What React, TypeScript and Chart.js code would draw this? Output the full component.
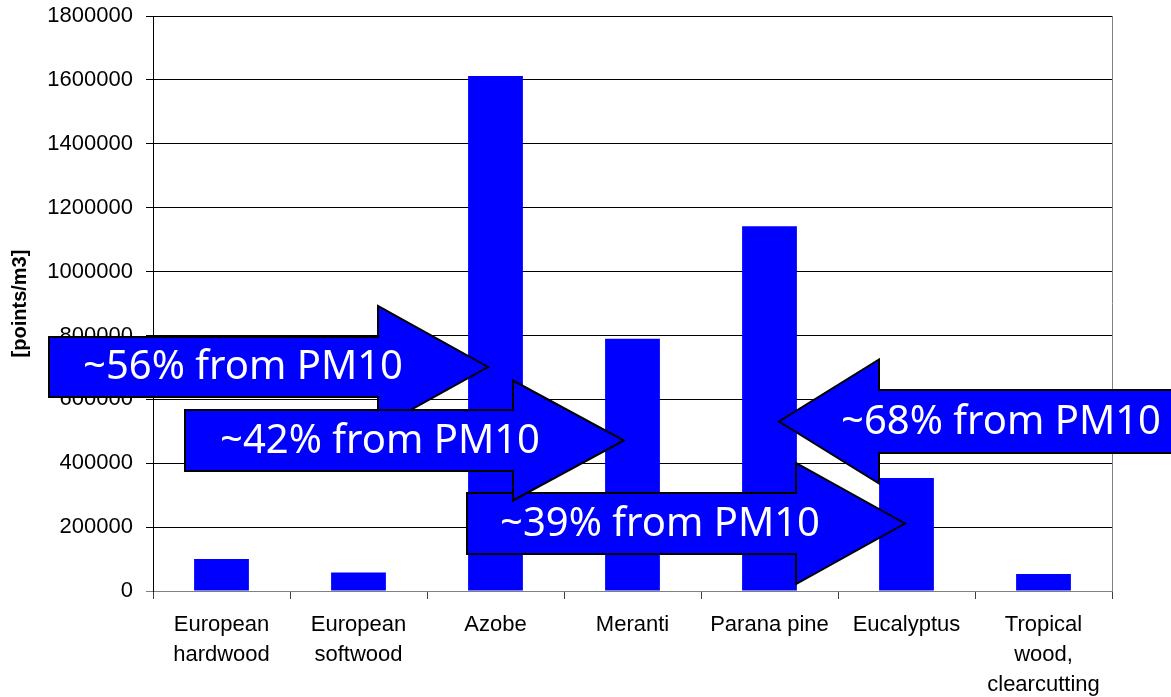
import React, { useEffect, useRef } from "react";
import { Chart, registerables } from "chart.js";

Chart.register(...registerables);

const categories: (string | string[])[] = [
  ["European", "hardwood"],
  ["European", "softwood"],
  "Azobe",
  "Meranti",
  "Parana pine",
  "Eucalyptus",
  ["Tropical", "wood,", "clearcutting"],
];

const pointsPerM3: number[] = [100000, 58000, 1612000, 790000, 1142000, 354000, 53000];

const yTickStep = 200000;
const yMax = 1800000;
const yAxisTitle = "[points/m3]";

const arrowLabels: string[] = ["~56% from PM10", "~39% from PM10", "~42% from PM10", "~68% from PM10"];

// Annotation geometry (pixels): tail, head base, tip, centre y, half body, half head, text centre x
const arrowShapes = [
  { tail: 49, base: 378, tip: 488, yc: 367, body: 30, head: 61, tx: 243 },
  { tail: 467, base: 796, tip: 905, yc: 523.5, body: 30.5, head: 60.5, tx: 660 },
  { tail: 185, base: 513, tip: 624, yc: 440.5, body: 30.5, head: 60, tx: 380 },
  { tail: 1210, base: 879, tip: 779, yc: 421.5, body: 31.5, head: 62, tx: 1001 },
];

const BLUE = "#0000FF";

const overlayPlugin = {
  id: "overlay",
  beforeDatasetsDraw(chart: any) {
    const { ctx, chartArea } = chart;
    ctx.save();
    ctx.strokeStyle = "#808080";
    ctx.lineWidth = 1;
    ctx.beginPath();
    const x = Math.round(chartArea.right) + 0.5;
    ctx.moveTo(x, chartArea.top);
    ctx.lineTo(x, chartArea.bottom);
    ctx.stroke();
    ctx.restore();
  },
  afterDraw(chart: any) {
    const { ctx } = chart;
    ctx.save();
    arrowShapes.forEach((a, i) => {
      ctx.beginPath();
      ctx.moveTo(a.tail, a.yc - a.body);
      ctx.lineTo(a.base, a.yc - a.body);
      ctx.lineTo(a.base, a.yc - a.head);
      ctx.lineTo(a.tip, a.yc);
      ctx.lineTo(a.base, a.yc + a.head);
      ctx.lineTo(a.base, a.yc + a.body);
      ctx.lineTo(a.tail, a.yc + a.body);
      ctx.closePath();
      ctx.fillStyle = BLUE;
      ctx.fill();
      ctx.lineWidth = 2;
      ctx.strokeStyle = "#000000";
      ctx.lineJoin = "miter";
      ctx.stroke();
      ctx.fillStyle = "#FFFFFF";
      ctx.font = '40px "Noto Sans"';
      ctx.textAlign = "center";
      ctx.textBaseline = "middle";
      ctx.fillText(arrowLabels[i], a.tx, a.yc + 1);
    });
    ctx.restore();
  },
};

export default function App() {
  const canvasRef = useRef<HTMLCanvasElement | null>(null);

  useEffect(() => {
    document.body.style.margin = "0";
    const canvas = canvasRef.current;
    if (!canvas) return;
    const chart = new Chart(canvas, {
      type: "bar",
      data: {
        labels: categories,
        datasets: [
          {
            data: pointsPerM3,
            backgroundColor: BLUE,
            borderWidth: 0,
            barPercentage: 0.4,
            categoryPercentage: 1,
          },
        ],
      },
      options: {
        animation: false,
        responsive: true,
        maintainAspectRatio: false,
        devicePixelRatio: 1,
        layout: { padding: { top: 16, right: 59, left: 0, bottom: 0 } },
        plugins: {
          legend: { display: false },
          tooltip: { enabled: false },
        },
        scales: {
          x: {
            grid: {
              drawOnChartArea: false,
              drawTicks: true,
              tickLength: 8,
              color: "#404040",
              offset: true,
            },
            border: { color: "#808080", width: 1 },
            ticks: {
              color: "#000000",
              maxRotation: 0,
              autoSkip: false,
              padding: 11,
              font: { family: '"Liberation Sans", Arial, sans-serif', size: 22, lineHeight: 1.364 },
            },
            afterFit(scale: any) {
              scale.height = 106;
              scale.paddingLeft = 0;
              scale.paddingRight = 0;
            },
          },
          y: {
            min: 0,
            max: yMax,
            grid: {
              color: (c: any) => (c.tick && c.tick.value === 0 ? "#808080" : "#000000"),
              tickLength: 7,
              drawTicks: true,
            },
            border: { color: "#000000", width: 1 },
            ticks: {
              stepSize: yTickStep,
              color: "#000000",
              padding: 13,
              font: { family: '"Liberation Sans", Arial, sans-serif', size: 22 },
              callback: (v: any) => String(v),
            },
            title: {
              display: true,
              text: yAxisTitle,
              color: "#000000",
              font: { family: '"Liberation Sans", Arial, sans-serif', size: 20, weight: "bold" },
              padding: { top: 8, bottom: 0 },
            },
            afterFit(scale: any) {
              scale.width = 153;
              scale.paddingTop = 0;
              scale.paddingBottom = 0;
            },
          },
        },
      },
      plugins: [overlayPlugin],
    });
    return () => chart.destroy();
  }, []);

  return (
    <div style={{ position: "absolute", left: 0, top: 0, width: 1171, height: 697, background: "#fff" }}>
      <canvas ref={canvasRef} />
    </div>
  );
}
